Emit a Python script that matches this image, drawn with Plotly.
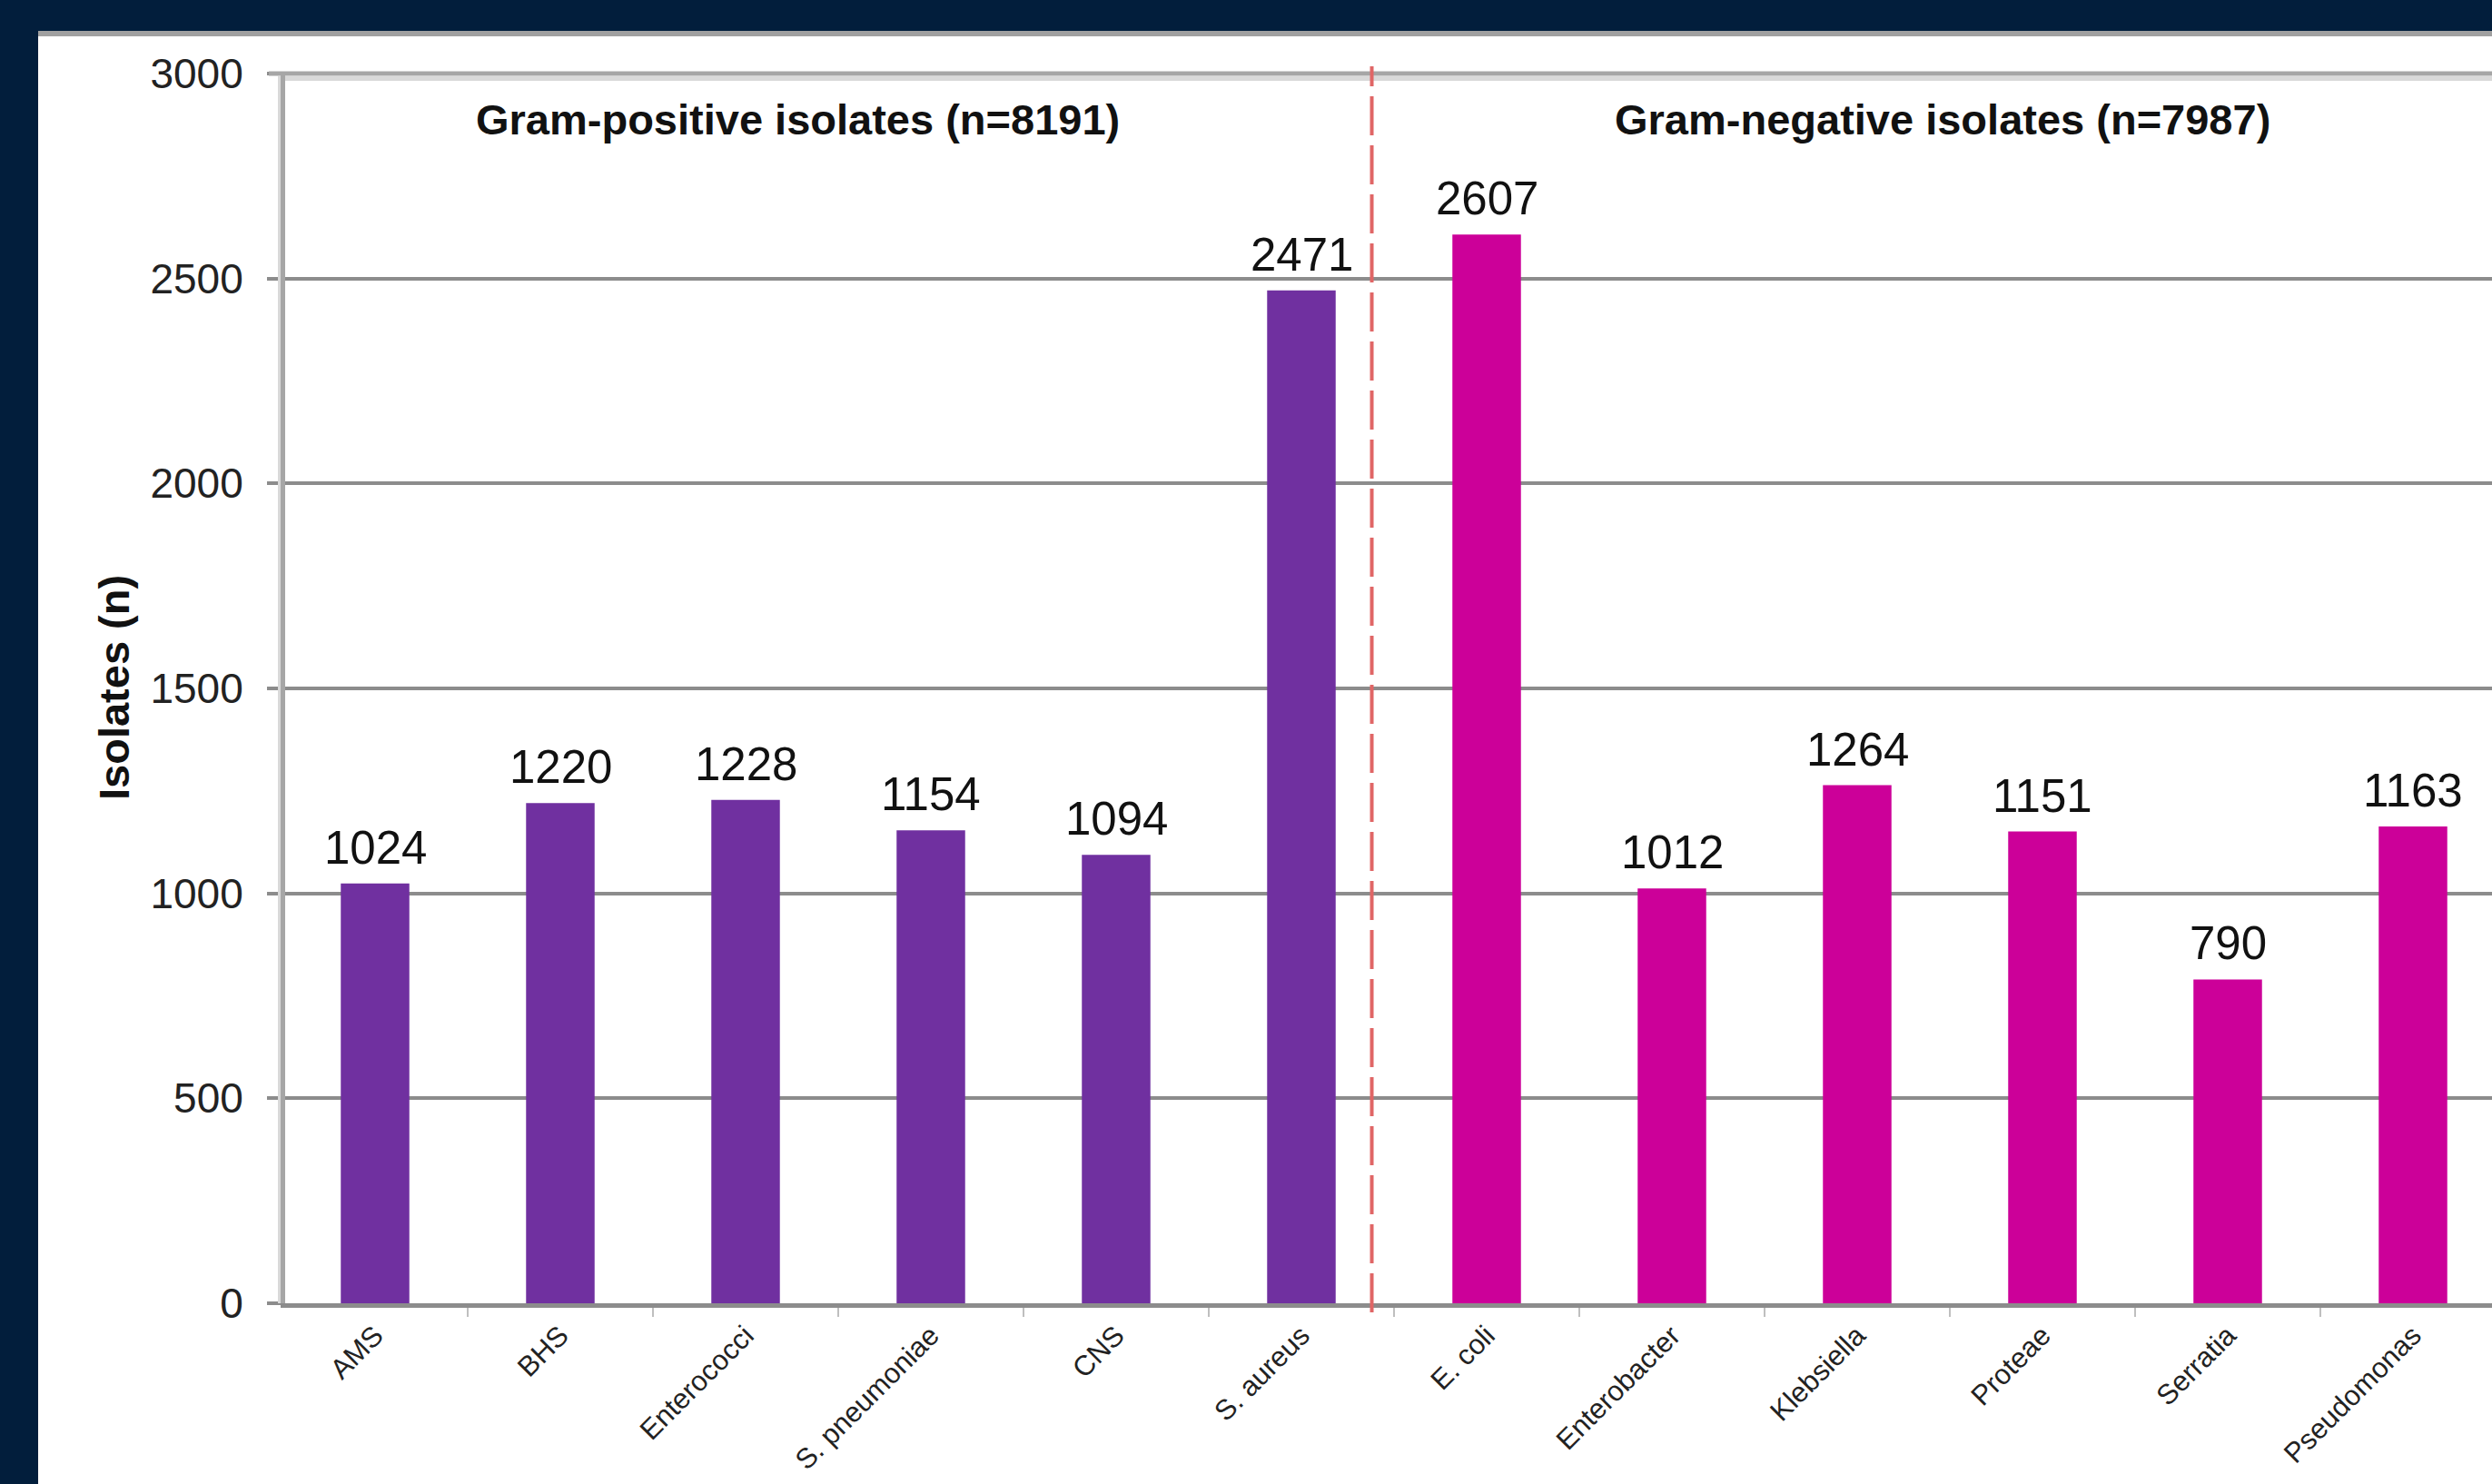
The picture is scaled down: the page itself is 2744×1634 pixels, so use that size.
import plotly.graph_objects as go

# Isolate counts per organism group
gram_pos_names = ["AMS", "BHS", "Enterococci", "S. pneumoniae", "CNS", "S. aureus"]
gram_pos_counts = [1024, 1220, 1228, 1154, 1094, 2471]
gram_neg_names = ["E. coli", "Enterobacter", "Klebsiella", "Proteae", "Serratia", "Pseudomonas"]
gram_neg_counts = [2607, 1012, 1264, 1151, 790, 1163]
y_tick_values = [0, 500, 1000, 1500, 2000, 2500, 3000]

POS_COLOR = "#7030A0"
NEG_COLOR = "#CC0099"
NAVY = "#021E3C"
GRID = "#8C8C8C"
FONT = "Liberation Sans, Arial, sans-serif"

# canvas and plot-area geometry (pixels)
W, H = 2744, 1634
L, T, B, R = 314, 81, 199, 0
CAT_PX = 204          # width of one category slot
FIRST_EDGE = 311      # left edge of the first category slot
plot_w = W - L - R
plot_h = H - T - B
x0 = -0.5 + (L - FIRST_EDGE) / CAT_PX
x_range = [x0, x0 + plot_w / CAT_PX]
y_range = [0, 3000]


def px_x(px):
    return (px - L) / plot_w


def px_y(py):
    return (H - B - py) / plot_h


names = gram_pos_names + gram_neg_names
counts = gram_pos_counts + gram_neg_counts
colors = [POS_COLOR] * len(gram_pos_names) + [NEG_COLOR] * len(gram_neg_names)

fig = go.Figure(
    go.Bar(
        x=names,
        y=counts,
        width=0.37,
        marker=dict(color=colors, line=dict(width=0)),
        hoverinfo="x+y",
    )
)

# value labels above each bar
for name, val in zip(names, counts):
    fig.add_annotation(
        x=name, y=val, xref="x", yref="y",
        text=str(val), showarrow=False,
        yanchor="bottom", yshift=9,
        font=dict(family=FONT, size=51, color="#111111"),
    )

# group headers
fig.add_annotation(
    x=2.28, y=px_y(132), xref="x", yref="paper",
    text=f"<b>Gram-positive isolates (n={sum(gram_pos_counts)})</b>",
    showarrow=False, xanchor="center", yanchor="middle",
    font=dict(family=FONT, size=47, color="#111111"),
)
fig.add_annotation(
    x=8.46, y=px_y(132), xref="x", yref="paper",
    text=f"<b>Gram-negative isolates (n={sum(gram_neg_counts)})</b>",
    showarrow=False, xanchor="center", yanchor="middle",
    font=dict(family=FONT, size=47, color="#111111"),
)

# y axis title
fig.add_annotation(
    x=px_x(126), y=px_y(757), xref="paper", yref="paper",
    text="<b>Isolates (n)</b>", textangle=-90,
    showarrow=False, xanchor="center", yanchor="middle",
    font=dict(family=FONT, size=47, color="#111111"),
)

# separator between the two groups
sep_idx = 5.38
sep_x = (sep_idx - x_range[0]) / (x_range[1] - x_range[0])

shapes = [
    # white panel on the navy frame
    dict(type="rect", xref="paper", yref="paper",
         x0=px_x(42), x1=px_x(W), y0=px_y(34), y1=px_y(H),
         fillcolor="white", line=dict(width=0), layer="below"),
    # grey rule along the top of the panel
    dict(type="rect", xref="paper", yref="paper",
         x0=px_x(42), x1=px_x(W), y0=px_y(34), y1=px_y(40),
         fillcolor="#A0A0A0", line=dict(width=0), layer="below"),
    # top border of the plot area
    dict(type="rect", xref="paper", yref="paper",
         x0=px_x(L), x1=1, y0=px_y(84), y1=px_y(89),
         fillcolor="#D9D9D9", line=dict(width=0), layer="below"),
    dict(type="line", xref="paper", yref="paper",
         x0=px_x(L - 18), x1=1, y0=1, y1=1,
         line=dict(color="#A6A6A6", width=5), layer="above"),
    # soft edge beside the y axis line
    dict(type="rect", xref="paper", yref="paper",
         x0=px_x(306), x1=px_x(309), y0=0, y1=px_y(84),
         fillcolor="#D9D9D9", line=dict(width=0), layer="above"),
    # dashed divider
    dict(type="line", xref="paper", yref="paper",
         x0=sep_x, x1=sep_x, y0=px_y(1445), y1=px_y(73),
         line=dict(color="#E06666", width=4, dash="43px,11px"), layer="above"),
]

fig.update_layout(
    width=W, height=H,
    margin=dict(l=L, r=R, t=T, b=B, autoexpand=False),
    paper_bgcolor=NAVY,
    plot_bgcolor="white",
    showlegend=False,
    font=dict(family=FONT, color="#222222"),
    shapes=shapes,
    xaxis=dict(
        type="category",
        range=x_range,
        showgrid=False,
        zeroline=False,
        showline=True, linecolor=GRID, linewidth=5,
        ticks="outside", tickson="boundaries",
        ticklen=10, tickwidth=2, tickcolor="#BFBFBF",
        tickangle=-45,
        tickfont=dict(family=FONT, size=31, color="#222222"),
    ),
    yaxis=dict(
        range=y_range,
        tickmode="array", tickvals=y_tick_values,
        showgrid=True, gridcolor=GRID, gridwidth=4,
        zeroline=False,
        showline=True, linecolor="#A6A6A6", linewidth=5,
        ticks="outside", ticklen=15, tickwidth=4, tickcolor=GRID,
        ticklabelstandoff=17,
        tickfont=dict(family=FONT, size=46, color="#222222"),
    ),
)

fig.write_html("out.html")
